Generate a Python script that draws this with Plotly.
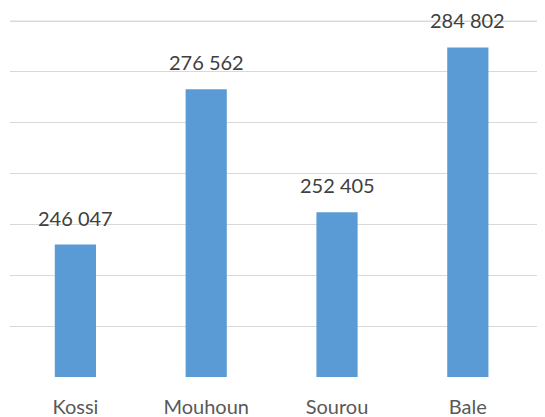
import plotly.graph_objects as go

categories = ["Kossi", "Mouhoun", "Sourou", "Bale"]
values = [246047, 276562, 252405, 284802]
labels = ["246 047", "276 562", "252 405", "284 802"]
grid_values = [220000, 230000, 240000, 250000, 260000, 270000, 280000, 290000]

fig = go.Figure()
fig.add_trace(go.Bar(
    x=list(range(len(categories))), y=values,
    marker=dict(color="#5B9BD5", line=dict(width=0)),
    width=0.315,
))
for i, (v, t) in enumerate(zip(values, labels)):
    fig.add_annotation(x=i, y=v, text=t, showarrow=False, yanchor="bottom",
                       yshift=13, font=dict(family="Lato", size=20, color="#404040"))
fig.add_shape(type="line", xref="paper", x0=0, x1=1, yref="y", y0=grid_values[-1], y1=grid_values[-1],
              line=dict(color="#D9D9D9", width=1), layer="below")

# page body has an 8px default margin; size figure to compensate
fig.update_layout(
    width=537, height=409,
    margin=dict(l=2, r=0, t=11, b=40),
    plot_bgcolor="white", paper_bgcolor="white",
    showlegend=False,
    font=dict(family="Lato", size=20, color="#595959"),
)
fig.update_xaxes(range=[-0.5, 3.59], tickmode="array", tickvals=list(range(len(categories))),
                 ticktext=categories, showgrid=False, zeroline=False, showline=False,
                 ticks="", ticklen=0, ticklabelstandoff=16,
                 tickfont=dict(family="Lato", size=20, color="#595959"))
fig.update_yaxes(range=[219990, 290400], tickmode="array", tickvals=grid_values,
                 showgrid=True, gridcolor="#D9D9D9",
                 gridwidth=1, showticklabels=False, zeroline=False, showline=False, ticks="")
fig.write_html("out.html", config={"displayModeBar": False})
